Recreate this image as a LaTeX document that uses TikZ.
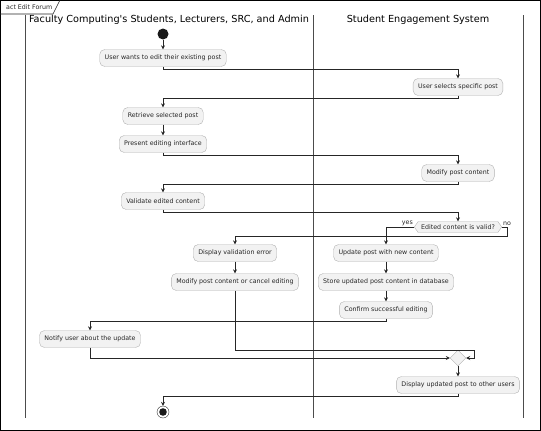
\documentclass[tikz,border=0pt]{standalone}
\usepackage{fontspec}
\setmainfont{DejaVu Sans}
\usetikzlibrary{positioning,shapes.geometric,shapes.symbols,arrows.meta}

\begin{document}
\begin{tikzpicture}[
  x=1pt,y=-1pt,
  every node/.style={font=\fontsize{6.3}{7.5}\selectfont,text=black!85},
  act/.style={rectangle,rounded corners=5pt,draw=gray!60,fill=black!5,minimum height=17pt,inner xsep=5pt},
  decide/.style={signal,signal to=east and west,signal pointer angle=110,draw=gray!60,fill=black!5,minimum height=11pt,inner ysep=1pt,inner xsep=3pt},
  merge/.style={diamond,draw=gray!60,fill=black!5,minimum size=16pt,inner sep=0pt},
  lane/.style={draw=black!70,line width=0.8pt},
  title/.style={font=\fontsize{9.7}{11}\selectfont,text=black},
  arr/.style={draw=black!85,line width=0.6pt,-{Stealth[length=4pt,width=4pt,inset=1.5pt]}},
]
\useasboundingbox (0,0) rectangle (541,431);
\draw[line width=1pt] (0.5,0.5) rectangle (540.5,430.5);
\node[anchor=west,inner sep=0pt] (tab) at (6,7) {act Edit Forum};
\draw[black!85,line width=0.6pt] (0,14) -- (53,14) -- (60,0);

% swimlanes
\draw[lane] (25,15) -- (25,418);
\draw[lane] (313,15) -- (313,418);
\draw[lane] (523,15) -- (523,418);
\node[title] (lane1) at (169,20) {Faculty Computing\textquotesingle s Students, Lecturers, SRC, and Admin};
\node[title] (lane2) at (418,20) {Student Engagement System};

% activities
\node[circle,fill=black!90,minimum size=11pt,inner sep=0pt] (start) at (163,34) {};
\node[act] (wants) at (163,58) {User wants to edit their existing post};
\node[act] (selects) at (458,87) {User selects specific post};
\node[act] (retrieve) at (163,116) {Retrieve selected post};
\node[act] (present) at (163,144) {Present editing interface};
\node[act] (modify) at (458,173) {Modify post content};
\node[act] (validate) at (163,201) {Validate edited content};
\node[decide] (valid) at (458,227) {Edited content is valid?};
\node[act] (update) at (386,253) {Update post with new content};
\node[act] (store) at (386,282) {Store updated post content in database};
\node[act] (confirm) at (386,310) {Confirm successful editing};
\node[act] (error) at (235,253) {Display validation error};
\node[act] (cancel) at (235,282) {Modify post content or cancel editing};
\node[act] (notify) at (90,339) {Notify user about the update};
\node[merge] (join) at (458,358) {};
\node[act] (display) at (458,385) {Display updated post to other users};
\node[circle,draw=black!80,fill=white,minimum size=12pt,inner sep=0pt,
  path picture={\fill[black!90] (path picture bounding box.center) circle (3.8pt);}] (stop) at (163,412) {};

% flow
\draw[arr] (start) -- (wants);
\draw[arr] (wants.south) -- ++(0,3) -| (selects.north);
\draw[arr] (selects.south) -- ++(0,3) -| (retrieve.north);
\draw[arr] (retrieve) -- (present);
\draw[arr] (present.south) -- ++(0,3) -| (modify.north);
\draw[arr] (modify.south) -- ++(0,3) -| (validate.north);
\draw[arr] (validate.south) -- ++(0,3) -| (valid.north);
\draw[arr] (valid.west) -| (update.north);
\node[anchor=south east,inner sep=1pt] (yes) at (valid.west) {yes};
\draw[arr] (valid.east) -- ++(5,0) -- ++(0,9) -| (error.north);
\node[anchor=south west,inner sep=1pt] (no) at (valid.east) {no};
\draw[arr] (update) -- (store);
\draw[arr] (store) -- (confirm);
\draw[arr] (error) -- (cancel);
\draw[arr] (confirm.south) -- ++(0,3) -| (notify.north);
\coordinate (bend) at (474,350);
\draw[arr] (cancel.south) |- (bend) |- (join.east);
\draw[arr] (notify.south) |- (join.west);
\draw[arr] (join) -- (display);
\draw[arr] (display.south) -- ++(0,3) -| (stop.north);
\end{tikzpicture}
\end{document}
